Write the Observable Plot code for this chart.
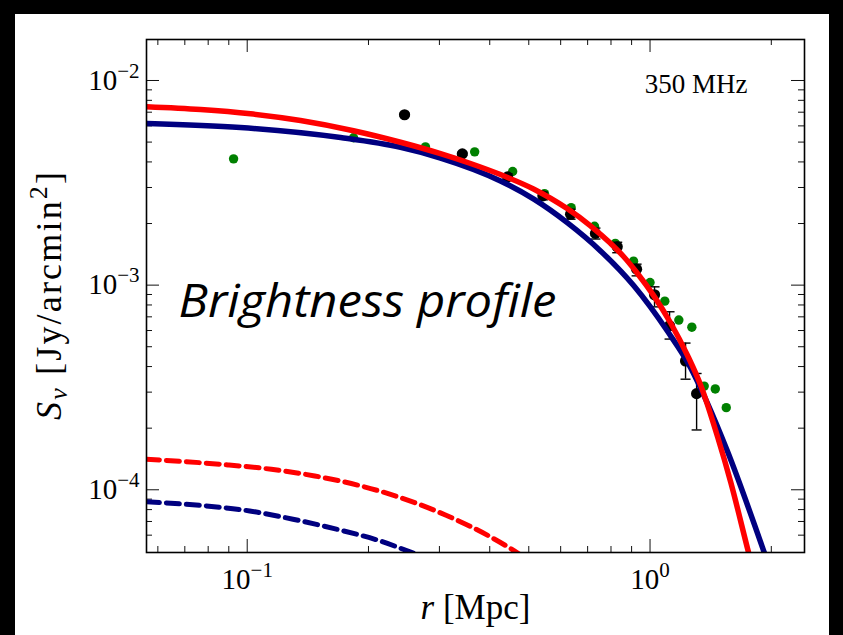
<!DOCTYPE html>
<html><head><meta charset="utf-8">
<script src="https://cdn.jsdelivr.net/npm/d3@7"></script>
<script src="https://cdn.jsdelivr.net/npm/@observablehq/plot@0.6"></script>
<style>
html,body{margin:0;padding:0;background:#000;}
#wrap{position:relative;width:843px;height:635px;overflow:hidden;background:#000;}
#paper{position:absolute;left:15px;top:14px;width:814px;height:621px;background:#fff;}
#chart{position:absolute;left:0;top:0;}
</style></head><body>
<div id="wrap"><div id="paper"></div><div id="chart"></div></div>
<script>
// ---- axis ticks and labels ----
const xMajor = [0.1, 1];
const xMajorLabels = ["10^-1", "10^0"];
const xMinor = [0.06, 0.07, 0.08, 0.09, 0.2, 0.3, 0.4, 0.5, 0.6, 0.7, 0.8, 0.9, 2];
const yMajor = [1e-4, 1e-3, 1e-2];
const yMajorLabels = ["10^-4", "10^-3", "10^-2"];
const yMinor = [6e-5, 7e-5, 8e-5, 9e-5, 2e-4, 3e-4, 4e-4, 5e-4, 6e-4, 7e-4, 8e-4, 9e-4,
                2e-3, 3e-3, 4e-3, 5e-3, 6e-3, 7e-3, 8e-3, 9e-3];
const xTitle = "r [Mpc]";
const yTitle = "S_ν [Jy/arcmin^2]";
const freqLabel = "350 MHz";
const panelLabel = "Brightness profile";

// ---- observed data: black points with error bars ----
const blackR  = [0.2458, 0.342, 0.443, 0.542, 0.635, 0.732, 0.829, 0.926, 1.026, 1.118, 1.225, 1.305];
const blackS  = [6.80e-3, 4.38e-3, 3.38e-3, 2.73e-3, 2.22e-3, 1.79e-3, 1.54e-3, 1.197e-3, 8.97e-4, 6.33e-4, 4.26e-4, 2.95e-4];
const blackLo = [6.70e-3, 4.31e-3, 3.26e-3, 2.61e-3, 2.10e-3, 1.68e-3, 1.44e-3, 1.11e-3, 7.83e-4, 5.45e-4, 3.47e-4, 1.96e-4];
const blackHi = [6.90e-3, 4.45e-3, 3.50e-3, 2.85e-3, 2.35e-3, 1.90e-3, 1.62e-3, 1.266e-3, 9.81e-4, 7.41e-4, 5.21e-4, 3.70e-4];

// ---- second data set: green points ----
const greenR = [0.0925, 0.1836, 0.277, 0.367, 0.456, 0.547, 0.637, 0.728, 0.820, 0.910, 1.000, 1.088, 1.179, 1.270, 1.363, 1.452, 1.546];
const greenS = [4.14e-3, 5.25e-3, 4.74e-3, 4.48e-3, 3.59e-3, 2.80e-3, 2.39e-3, 1.94e-3, 1.60e-3, 1.31e-3, 1.03e-3, 8.35e-4, 6.75e-4, 6.23e-4, 3.21e-4, 3.11e-4, 2.52e-4];

// ---- model curves ----
const redR = [0.0562, 0.0766, 0.1019, 0.1356, 0.1836, 0.2402, 0.3019, 0.3584, 0.4253, 0.5137, 0.6238, 0.7115, 0.7977, 0.8596, 0.9310, 1.020, 1.124, 1.239, 1.335, 1.473, 1.585, 1.756, 1.82];
const redS = [7.44e-3, 7.21e-3, 6.87e-3, 6.37e-3, 5.68e-3, 4.99e-3, 4.39e-3, 3.93e-3, 3.47e-3, 2.95e-3, 2.36e-3, 1.95e-3, 1.60e-3, 1.38e-3, 1.14e-3, 8.91e-4, 6.55e-4, 4.53e-4, 3.25e-4, 1.80e-4, 1.094e-4, 4.94e-5, 3.77e-5];
const navyR = [0.05645, 0.0962, 0.1705, 0.2402, 0.3019, 0.4253, 0.5147, 0.6228, 0.7535, 0.9117, 1.103, 1.260, 1.387, 1.555, 1.921, 1.995];
const navyS = [6.16e-3, 5.89e-3, 5.26e-3, 4.71e-3, 4.18e-3, 3.23e-3, 2.63e-3, 2.02e-3, 1.47e-3, 9.92e-4, 5.98e-4, 3.96e-4, 2.66e-4, 1.55e-4, 4.94e-5, 3.99e-5];
const redDashR = [0.0562, 0.0699, 0.0896, 0.1148, 0.1471, 0.1884, 0.2414, 0.3095, 0.3963, 0.4542, 0.501];
const redDashS = [1.411e-4, 1.373e-4, 1.323e-4, 1.259e-4, 1.168e-4, 1.053e-4, 9.12e-5, 7.55e-5, 5.97e-5, 5.11e-5, 4.5e-5];
const navyDashR = [0.0562, 0.0791, 0.1014, 0.1299, 0.1665, 0.2133, 0.2536, 0.282];
const navyDashS = [8.73e-5, 8.34e-5, 7.88e-5, 7.18e-5, 6.42e-5, 5.63e-5, 4.97e-5, 4.57e-5];

// ---- build tables ----
const zip = (xs, ys) => xs.map((x, i) => ({x, y: ys[i]}));
const black = blackR.map((x, i) => ({x, y: blackS[i], lo: blackLo[i], hi: blackHi[i]}));
const green = zip(greenR, greenS);
const red = zip(redR, redS), navy = zip(navyR, navyS);
const redDash = zip(redDashR, redDashS), navyDash = zip(navyDashR, navyDashS);
const xLab = new Map(xMajor.map((d, i) => [d, xMajorLabels[i]]));
const yLab = new Map(yMajor.map((d, i) => [d, yMajorLabels[i]]));

const W = 843, H = 635, ML = 146, MR = 39, MT = 39, MB = 83;
const FW = W - ML - MR, FH = H - MT - MB, MAJ = 13, MIN = 6;
const tk = {stroke: "#111", strokeWidth: 1};
const capSymbol = {draw(ctx) { ctx.moveTo(-5, 0); ctx.lineTo(5, 0); }};

const plot = Plot.plot({
  width: W, height: H,
  marginLeft: ML, marginRight: MR, marginTop: MT, marginBottom: MB,
  x: {type: "log", domain: [0.05623, 2.418]},
  y: {type: "log", domain: [4.937e-5, 1.586e-2]},
  style: {background: "transparent", fontFamily: "'Liberation Serif', serif", color: "#000", overflow: "visible"},
  marks: [
    Plot.tickX(xMajor, {insetTop: FH - MAJ, ...tk}),
    Plot.tickX(xMajor, {insetBottom: FH - MAJ, ...tk}),
    Plot.tickX(xMinor, {insetTop: FH - MIN, ...tk}),
    Plot.tickX(xMinor, {insetBottom: FH - MIN, ...tk}),
    Plot.tickY(yMajor, {insetRight: FW - MAJ, ...tk}),
    Plot.tickY(yMajor, {insetLeft: FW - MAJ, ...tk}),
    Plot.tickY(yMinor, {insetRight: FW - MIN, ...tk}),
    Plot.tickY(yMinor, {insetLeft: FW - MIN, ...tk}),
    Plot.axisX({ticks: xMajor, anchor: "bottom", tickSize: 0, tickPadding: 16, tickFormat: d => xLab.get(d), fontSize: 29, label: null}),
    Plot.axisY({ticks: yMajor, anchor: "left", tickSize: 0, tickPadding: 7, tickFormat: d => yLab.get(d), fontSize: 29, label: null}),
    Plot.dot(green, {x: "x", y: "y", r: 4.7, fill: "#008000", clip: true}),
    Plot.ruleX(black, {x: "x", y1: "lo", y2: "hi", stroke: "#000", strokeWidth: 1.4}),
    Plot.dot(black, {x: "x", y: "lo", symbol: capSymbol, r: 3, fill: "none", stroke: "#000", strokeWidth: 1.4}),
    Plot.dot(black, {x: "x", y: "hi", symbol: capSymbol, r: 3, fill: "none", stroke: "#000", strokeWidth: 1.4}),
    Plot.dot(black, {x: "x", y: "y", r: 5.6, fill: "#000"}),
    Plot.line(navyDash, {x: "x", y: "y", stroke: "#000080", strokeWidth: 5, strokeDasharray: "13,7", curve: "monotone-x", clip: true}),
    Plot.line(redDash, {x: "x", y: "y", stroke: "#ff0000", strokeWidth: 5, strokeDasharray: "13,7", curve: "monotone-x", clip: true}),
    Plot.line(navy, {x: "x", y: "y", stroke: "#000080", strokeWidth: 5.5, curve: "monotone-x", clip: true}),
    Plot.line(red, {x: "x", y: "y", stroke: "#ff0000", strokeWidth: 5.5, curve: "monotone-x", clip: true}),
    Plot.frame({stroke: "#000", strokeWidth: 1.6}),
    Plot.text([freqLabel], {text: d => d, frameAnchor: "top-right", dx: -57, dy: 53, textAnchor: "end", lineAnchor: "bottom", fontSize: 27}),
    Plot.text([panelLabel], {text: d => d, frameAnchor: "top-left", dx: 32, dy: 277, textAnchor: "start", lineAnchor: "bottom", fontSize: 46, fontFamily: "'Open Sans', sans-serif", fontStyle: "italic"}),
    Plot.text([xTitle], {text: d => d, frameAnchor: "bottom", dy: 66, textAnchor: "middle", lineAnchor: "bottom", fontSize: 35}),
    Plot.text([yTitle], {text: d => d, frameAnchor: "left", dx: -86, rotate: -90, textAnchor: "middle", lineAnchor: "bottom", fontSize: 36})
  ]
});
document.getElementById("chart").appendChild(plot);

// ---- rich text (superscripts / subscripts / italics) ----
const NS = "http://www.w3.org/2000/svg";
function rich(t, parts) {
  t.textContent = "";
  for (const p of parts) {
    const s = document.createElementNS(NS, "tspan");
    s.textContent = p.t;
    if (p.dy) s.setAttribute("dy", p.dy);
    if (p.size) s.setAttribute("font-size", p.size);
    if (p.it) s.setAttribute("font-style", "italic");
    t.appendChild(s);
  }
}
plot.querySelectorAll("text").forEach(t => {
  const s = t.textContent;
  const m = /^10\^(-?\d+)$/.exec(s);
  if (m) {
    rich(t, [{t: "10"}, {t: m[1].replace("-", "\u2212"), size: 21, dy: -12}]);
  } else if (s === xTitle) {
    rich(t, [{t: "r", it: true}, {t: " [Mpc]"}]);
  } else if (s === yTitle) {
    rich(t, [{t: "S", it: true}, {t: "ν", it: true, size: 26, dy: 6}, {t: " [Jy/arcmin", dy: -6}, {t: "2", size: 26, dy: -14}, {t: "]", dy: 14}]);
    t.setAttribute("textLength", 248);
    t.setAttribute("lengthAdjust", "spacing");
  } else if (s === panelLabel) {
    t.setAttribute("textLength", 378);
    t.setAttribute("lengthAdjust", "spacingAndGlyphs");
  }
});
</script>
</body></html>
